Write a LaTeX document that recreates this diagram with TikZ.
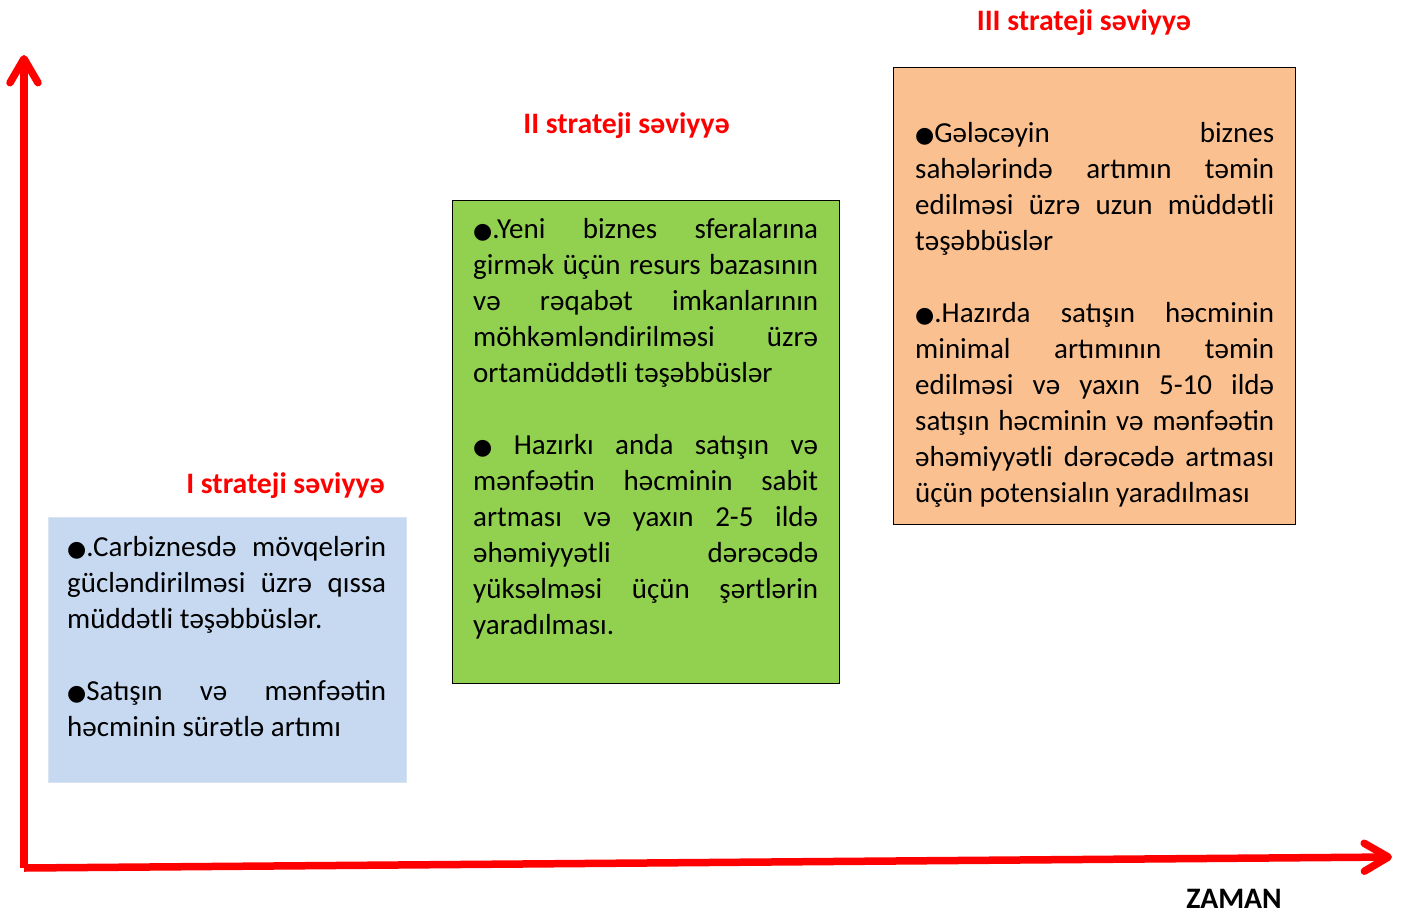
\documentclass[tikz,border=0pt]{standalone}
\usepackage{fontspec}
\setmainfont{Carlito}
\newfontfamily\bulletfont{DejaVu Sans}
\usepackage{xcolor}
\usetikzlibrary{arrows.meta}
\usetikzlibrary{positioning}
\definecolor{levelone}{HTML}{C6D9F1}
\definecolor{leveloneedge}{HTML}{D8E3F1}
\definecolor{leveltwo}{HTML}{92D050}
\definecolor{levelthree}{HTML}{FAC090}
\newcommand{\blt}{{\bulletfont\fontsize{22}{22}\selectfont ●}}

\begin{document}
\begin{tikzpicture}[
			     x=1pt, y=-1pt,
			     %>=stealth,
			     axis/.style={draw=red, line width=7.5pt, -{Straight Barb[length=24pt, width=28pt, round]}},
			     levelbox/.style={anchor=north west, inner sep=0pt, line width=1.3pt},
			     leveltext/.style={anchor=north west, inner sep=0pt, align=justify, font=\fontsize{29}{36}\selectfont,
			       execute at begin node={\parindent=0pt\parskip=36pt\tolerance=10000\hbadness=10000\hyphenpenalty=10000\rule{0pt}{22pt}}},
			     leveltitle/.style={anchor=base, inner sep=0pt, text=red, font=\bfseries\fontsize{29.7}{36}\selectfont}
			     ]
\useasboundingbox (0,0) rectangle (1406,913);
\coordinate (origin) at (24,868);
\coordinate (ytip) at (24,55);
\coordinate (xtip) at (1392,857);
\path (origin) edge[axis] (ytip);
\path (origin) edge[axis] (xtip);
\node[levelbox, fill=levelone, draw=leveloneedge, minimum width=358pt, minimum height=265pt] (boxone) at (48,517) {};
\node[levelbox, fill=leveltwo, draw=black, minimum width=387pt, minimum height=483pt] (boxtwo) at (452,200) {};
\node[levelbox, fill=levelthree, draw=black, minimum width=402pt, minimum height=457pt] (boxthree) at (893,67) {};
\node[leveltext, text width=319pt, below right=17pt and 19pt of boxone.north west] (textone) {\blt.Carbiznesdə mövqelərin\linebreak gücləndirilməsi üzrə qıssa\linebreak müddətli təşəbbüslər.\par
\blt Satışın və mənfəətin\linebreak həcminin sürətlə artımı};
\node[leveltext, text width=345pt, below right=16pt and 21pt of boxtwo.north west] (texttwo) {\blt.Yeni biznes sferalarına\linebreak girmək üçün resurs bazasının\linebreak və rəqabət imkanlarının\linebreak möhkəmləndirilməsi üzrə\linebreak ortamüddətli təşəbbüslər\par
\blt\ Hazırkı anda satışın və\linebreak mənfəətin həcminin sabit\linebreak artması və yaxın 2-5 ildə\linebreak əhəmiyyətli dərəcədə\linebreak yüksəlməsi üçün şərtlərin\linebreak yaradılması.};
\node[leveltext, text width=359pt, below right=53pt and 22pt of boxthree.north west] (textthree) {\blt Gələcəyin biznes\linebreak sahələrində artımın təmin\linebreak edilməsi üzrə uzun müddətli\linebreak təşəbbüslər\par
\blt.Hazırda satışın həcminin\linebreak minimal artımının təmin\linebreak edilməsi və yaxın 5-10 ildə\linebreak satışın həcminin və mənfəətin\linebreak əhəmiyyətli dərəcədə artması\linebreak üçün potensialın yaradılması};
\node[leveltitle] (titleone) at (285.5,493) {I strateji səviyyə};
\node[leveltitle] (titletwo) at (626.5,133) {II strateji səviyyə};
\node[leveltitle] (titlethree) at (1084,30) {III strateji səviyyə};
\node[leveltitle, text=black] (timelabel) at (1234,908) {ZAMAN};
\end{tikzpicture}
\end{document}
